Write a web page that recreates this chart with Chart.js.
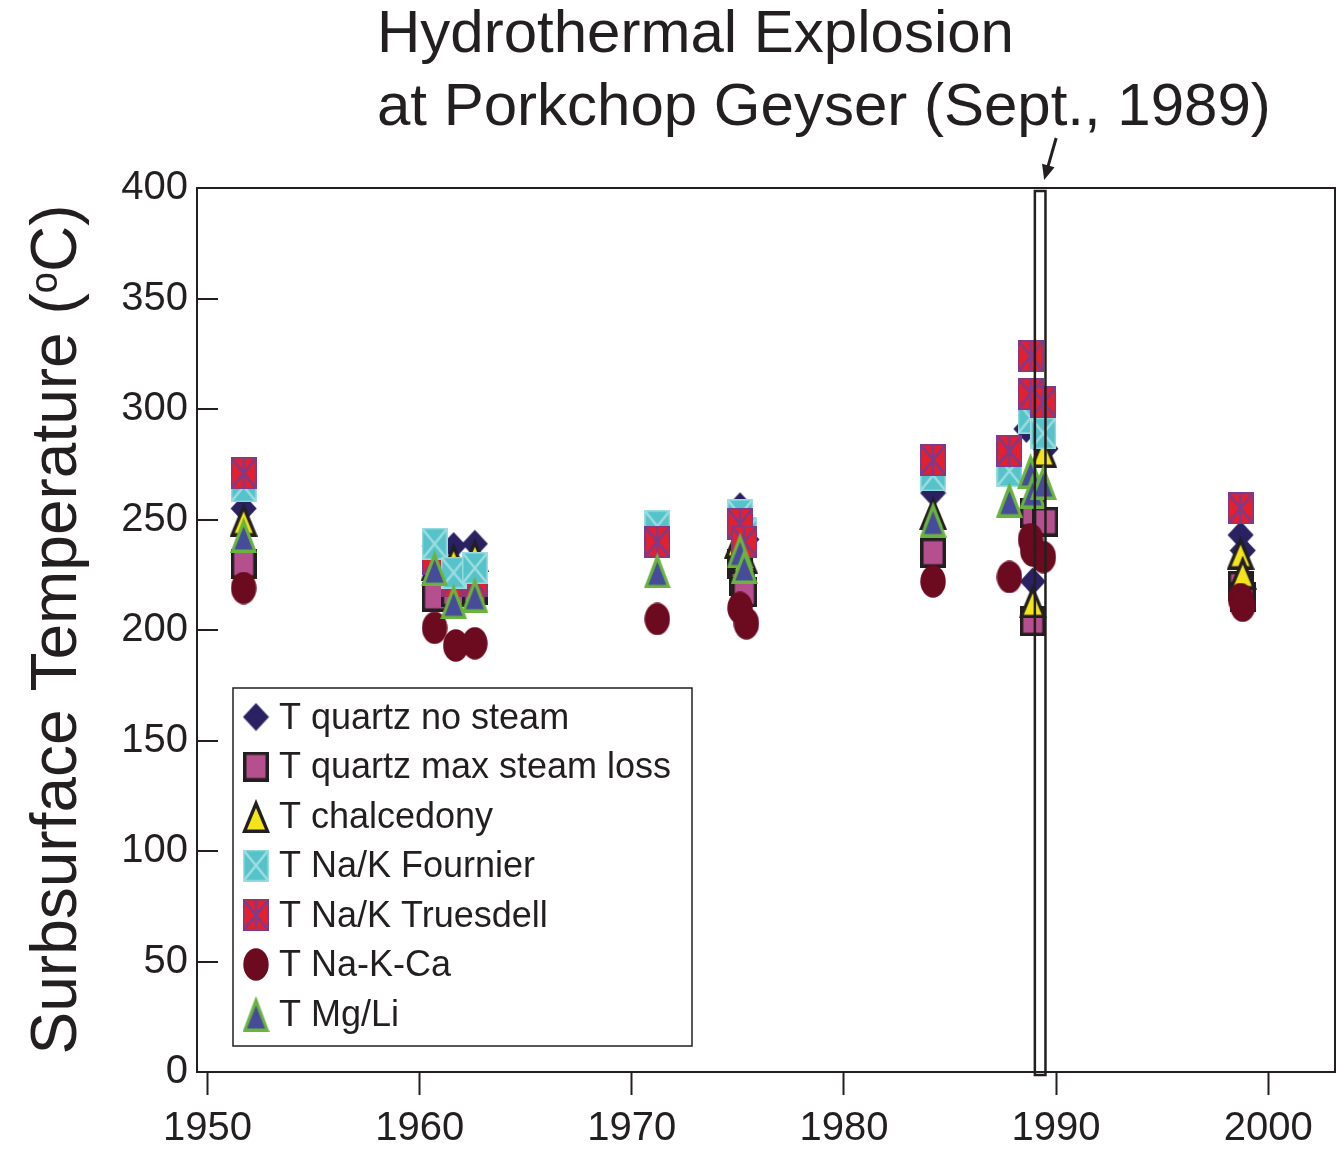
<!DOCTYPE html>
<html><head><meta charset="utf-8">
<script src="https://cdn.jsdelivr.net/npm/chart.js@4.4.1/dist/chart.umd.min.js"></script>
<style>html,body{margin:0;padding:0;background:#fff;}canvas{display:block}</style>
</head><body>
<canvas id="c" width="1336" height="1157" style="width:1336px;height:1157px"></canvas>
<script>
// ---------- data ----------
const seriesLabels = ["T quartz no steam","T quartz max steam loss","T chalcedony","T Na/K Fournier","T Na/K Truesdell","T Na-K-Ca","T Mg/Li"];

const qnsYears  = [1951.7,1960.7,1961.6,1962.6,1975.1,1975.2,1975.4,1984.2,1988.6,1988.9,1989.5,1998.7,1998.8];
const qnsTemps  = [255,238,238,239,256,248,241,262,291,222,282,243,236];

const qmslYears = [1951.7,1960.7,1961.6,1962.6,1975.1,1975.2,1975.3,1984.2,1988.9,1988.9,1989.5,1998.7,1998.8];
const qmslTemps = [230,215,217,218,230,222,217,235,253,204,249,220,215];

const chalYears = [1951.7,1960.7,1961.6,1962.6,1975.0,1975.3,1984.2,1988.9,1989.4,1998.7,1998.8];
const chalTemps = [250,230,232,234,240,233,253,213,281,235,226];

const fourYears = [1951.7,1960.7,1961.6,1962.6,1971.2,1975.1,1975.3,1984.2,1987.8,1988.8,1989.4,1998.7];
const fourTemps = [265,239,226,228,247,252,244,270,272,296,289,255];

// Truesdell: 1960s samples sit beneath the Fournier marks, later ones above
const trueEarlyYears = [1960.7,1961.6,1962.6];
const trueEarlyTemps = [232,222,222];
const trueYears = [1951.7,1971.2,1975.1,1975.3,1984.2,1987.8,1988.8,1988.8,1989.4,1998.7];
const trueTemps = [271,240,248,240,277,281,324,307,303,255];

const nkcYears  = [1951.7,1960.7,1961.7,1962.6,1971.2,1975.1,1975.4,1984.2,1987.8,1988.8,1988.9,1989.4,1998.7,1998.8];
const nkcTemps  = [219,201,193,194,205,210,203,222,224,241,236,233,214,211];

const mgliYears = [1951.7,1960.7,1961.6,1962.6,1971.2,1975.1,1975.3,1984.2,1987.8,1988.8,1988.9,1989.4];
const mgliTemps = [243,228,213,216,227,236,229,250,259,272,263,267];

const xTickValues = [1950,1960,1970,1980,1990,2000];
const yTickValues = [0,50,100,150,200,250,300,350,400];
const eventStart = 1989.0, eventEnd = 1989.5;
const titleLines = ["Hydrothermal Explosion","at Porkchop Geyser (Sept., 1989)"];

// ---------- marker images ----------
const INK = '#231f20';
const FONT = '"Liberation Sans", Arial, sans-serif';
function mk(w,h,draw){const c=document.createElement('canvas');c.width=w;c.height=h;const g=c.getContext('2d');draw(g,w,h);return c;}
function tri(g,pts,fill){g.beginPath();g.moveTo(pts[0][0],pts[0][1]);g.lineTo(pts[1][0],pts[1][1]);g.lineTo(pts[2][0],pts[2][1]);g.closePath();g.fillStyle=fill;g.fill();}
const markDiamond = mk(27,29,(g,w,h)=>{g.beginPath();g.moveTo(w/2,0.5);g.lineTo(w-0.5,h/2);g.lineTo(w/2,h-0.5);g.lineTo(0.5,h/2);g.closePath();g.fillStyle='#2a2163';g.fill();});
const markSquare = mk(26,30,(g,w,h)=>{g.fillStyle=INK;g.fillRect(0,0,w,h);g.fillStyle='#b54f8e';g.fillRect(3.5,3.5,w-7,h-7);});
const markChal = mk(28,34,(g,w,h)=>{tri(g,[[14,0],[28,34],[0,34]],INK);tri(g,[[14,9],[23,30.5],[5,30.5]],'#f3e41c');});
const markFour = mk(26,32,(g,w,h)=>{g.fillStyle='#56c2c9';g.fillRect(0,0,w,h);g.strokeStyle='#9bdde0';g.lineWidth=2.5;g.beginPath();g.moveTo(0,0);g.lineTo(w,h);g.moveTo(w,0);g.lineTo(0,h);g.stroke();g.lineWidth=1.5;g.strokeRect(0.75,0.75,w-1.5,h-1.5);});
const markTrue = mk(26,32,(g,w,h)=>{g.fillStyle='#e4202e';g.fillRect(0,0,w,h);g.strokeStyle='#7a3c8e';g.lineWidth=2.5;g.beginPath();g.moveTo(0,0);g.lineTo(w,h);g.moveTo(w,0);g.lineTo(0,h);g.moveTo(w/2,0);g.lineTo(w/2,h);g.stroke();g.lineWidth=1.5;g.strokeRect(0.75,0.75,w-1.5,h-1.5);});
const markCirc = mk(26,33,(g,w,h)=>{g.beginPath();g.ellipse(w/2,h/2,w/2-0.3,h/2-0.3,0,0,Math.PI*2);g.fillStyle='#6c0a1f';g.fill();});
const markMgLi = mk(27,36,(g,w,h)=>{tri(g,[[13.5,0],[27,36],[0,36]],'#6ab33e');tri(g,[[13.5,9.5],[22.5,32.5],[4.5,32.5]],'#464c9a');});
const markers = [markDiamond,markSquare,markChal,markFour,markTrue,markCirc,markMgLi];

function pts(xs,ys){return xs.map((x,j)=>({x:x,y:ys[j]}));}
function ds(label,xs,ys,marker,order){return {label:label,data:pts(xs,ys),pointStyle:marker,pointRadius:13,showLine:false,order:order};}
// higher order is drawn first (underneath)
const datasets = [
  ds(seriesLabels[0],qnsYears,qnsTemps,markDiamond,8),
  ds(seriesLabels[1],qmslYears,qmslTemps,markSquare,7),
  ds(seriesLabels[2],chalYears,chalTemps,markChal,6),
  ds(seriesLabels[4],trueEarlyYears,trueEarlyTemps,markTrue,5),
  ds(seriesLabels[3],fourYears,fourTemps,markFour,4),
  ds(seriesLabels[4],trueYears,trueTemps,markTrue,3),
  ds(seriesLabels[5],nkcYears,nkcTemps,markCirc,2),
  ds(seriesLabels[6],mgliYears,mgliTemps,markMgLi,1)
];

// ---------- decoration plugin ----------
const deco = {
  id:'deco',
  afterDatasetsDraw(chart){
    const {ctx, chartArea:a, scales:{x,y}} = chart;
    ctx.save();
    ctx.strokeStyle=INK; ctx.lineWidth=2;
    ctx.strokeRect(a.left,a.top,a.right-a.left,a.bottom-a.top);
    ctx.lineWidth=2;
    yTickValues.forEach(v=>{const py=Math.round(y.getPixelForValue(v));ctx.beginPath();ctx.moveTo(a.left,py);ctx.lineTo(a.left+21,py);ctx.stroke();});
    const x0=x.getPixelForValue(eventStart), x1=x.getPixelForValue(eventEnd);
    ctx.lineWidth=2.5;
    ctx.strokeRect(x0,a.top+3,x1-x0,a.bottom-a.top);
    const tipX=(x0+x1)/2+4, tipY=a.top-8, tailX=tipX+12, tailY=tipY-42;
    const ang=Math.atan2(tipY-tailY,tipX-tailX);
    ctx.lineWidth=3;
    ctx.beginPath();ctx.moveTo(tailX,tailY);ctx.lineTo(tipX-12*Math.cos(ang),tipY-12*Math.sin(ang));ctx.stroke();
    ctx.beginPath();ctx.moveTo(tipX,tipY);
    ctx.lineTo(tipX-15*Math.cos(ang)+6.5*Math.sin(ang),tipY-15*Math.sin(ang)-6.5*Math.cos(ang));
    ctx.lineTo(tipX-15*Math.cos(ang)-6.5*Math.sin(ang),tipY-15*Math.sin(ang)+6.5*Math.cos(ang));
    ctx.closePath();ctx.fillStyle=INK;ctx.fill();
    ctx.fillStyle=INK; ctx.font='60px '+FONT; ctx.textAlign='left'; ctx.textBaseline='alphabetic';
    ctx.fillText(titleLines[0],377,52);
    ctx.fillText(titleLines[1],377,125);
    ctx.save();
    ctx.translate(76,629.5); ctx.rotate(-Math.PI/2);
    const big='64px '+FONT, small='38px '+FONT;
    const p1='Surbsurface Temperature (', p2='o', p3='C)';
    ctx.font=big; const w1=ctx.measureText(p1).width, w3=ctx.measureText(p3).width;
    ctx.font=small; const w2=ctx.measureText(p2).width;
    let sx=-(w1+w2+w3)/2;
    ctx.font=big; ctx.fillText(p1,sx,0); sx+=w1;
    ctx.font=small; ctx.fillText(p2,sx,-19); sx+=w2;
    ctx.font=big; ctx.fillText(p3,sx,0);
    ctx.restore();
    const lx=233, ly=688, lw=459, lh=358;
    ctx.fillStyle='#fff'; ctx.fillRect(lx,ly,lw,lh);
    ctx.strokeStyle=INK; ctx.lineWidth=1.5; ctx.strokeRect(lx,ly,lw,lh);
    ctx.font='36px '+FONT; ctx.textBaseline='middle';
    seriesLabels.forEach((lab,i)=>{
      const cy=717+i*49.5;
      const m=markers[i];
      ctx.drawImage(m,256-m.width/2,cy-m.height/2);
      ctx.fillStyle=INK; ctx.fillText(lab,279,cy+2);
    });
    ctx.restore();
  }
};

new Chart(document.getElementById('c'),{
  type:'scatter',
  data:{datasets:datasets},
  options:{
    responsive:false, animation:false, events:[],
    layout:{autoPadding:false,padding:{top:188,left:0,right:1,bottom:0}},
    plugins:{legend:{display:false},tooltip:{enabled:false},title:{display:false}},
    scales:{
      x:{type:'linear',min:1949.5,max:2003.15,
        afterBuildTicks:s=>{s.ticks=xTickValues.map(v=>({value:v}));},
        afterFit:s=>{s.height=85;},
        ticks:{autoSkip:false,maxRotation:0,padding:10,color:INK,font:{size:40,family:FONT},callback:v=>String(v)},
        grid:{display:true,drawOnChartArea:false,drawTicks:true,tickLength:23,tickWidth:2,tickColor:INK},
        border:{display:false}},
      y:{type:'linear',min:0,max:400,
        afterBuildTicks:s=>{s.ticks=yTickValues.map(v=>({value:v}));},
        afterFit:s=>{s.width=197;},
        ticks:{padding:1,color:INK,font:{size:40,family:FONT}},
        grid:{display:false},
        border:{display:false}}
    }
  },
  plugins:[deco]
});
</script></body></html>
